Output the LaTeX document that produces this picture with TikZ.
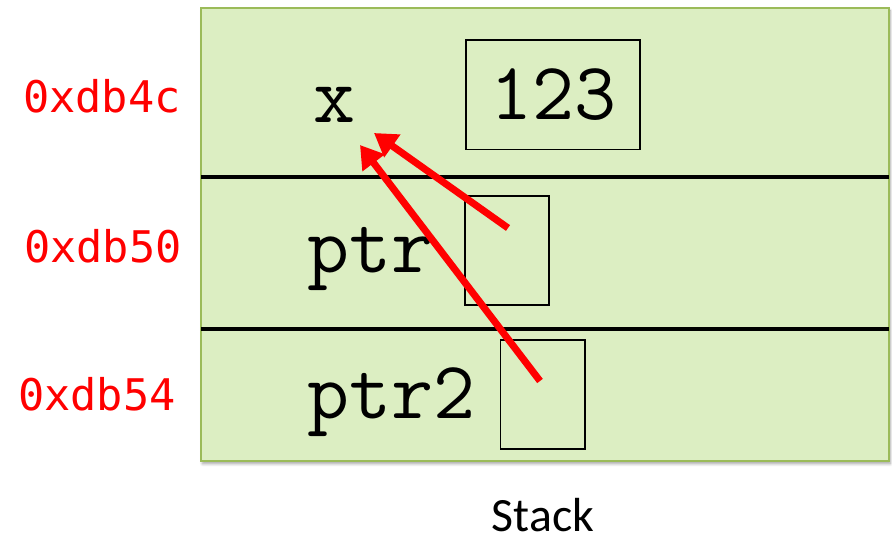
\documentclass[tikz,border=0pt]{standalone}
\usepackage{fontspec}
\setmainfont{Carlito}
\newfontfamily\addrfont{DejaVu Sans Mono}
\usepackage{tikz}
\usetikzlibrary{arrows.meta}
\usetikzlibrary{shadows.blur}
\definecolor{stackfill}{RGB}{220, 238, 194}
\definecolor{stackrand}{RGB}{155, 187, 89}
\definecolor{zeiger}{RGB}{255, 0, 0}

\begin{document}
\begin{tikzpicture}[x=0.025cm, y=-0.025cm,
    cell/.style={draw=black, line width=1.4pt, minimum width=2.1cm, minimum height=2.725cm, inner sep=0pt},
    varname/.style={font=\ttfamily\fontsize{58}{66}\selectfont, inner sep=0pt},
    addr/.style={font=\addrfont\fontsize{31}{36}\selectfont, text=zeiger, inner sep=0pt},
    zeigerpfeil/.style={zeiger, line width=5pt, -{Triangle[length=16pt, width=19pt]}}]

    \useasboundingbox (0,0) rectangle (892,538);

    % der Stack mit drei Zeilen
    \draw[fill=stackfill, draw=stackrand, line width=2pt,
          blur shadow={shadow xshift=1pt, shadow yshift=-2pt, shadow blur steps=6, shadow opacity=35}]
          (201,8) rectangle (889,461);
    \draw[line width=3pt] (201,177) -- (889,177);
    \draw[line width=3pt] (201,329) -- (889,329);

    \node[addr, anchor=base east] (a1) at (181,113) {0xdb4c};
    \node[addr, anchor=base east] (a2) at (182,262) {0xdb50};
    \node[addr, anchor=base east] (a3) at (176,410) {0xdb54};

    \node[varname, anchor=base] (x) at (334,123) {x};
    \node[varname, anchor=base west] (ptr) at (307,272) {ptr};
    \node[varname, anchor=base west] (ptrzwei) at (307,418) {ptr2};

    \node[cell, minimum width=4.35cm, font=\ttfamily\fontsize{58}{66}\selectfont] (wert) at (553,95) {123};
    \node[cell] (ptrbox) at (507,250.5) {};
    \node[cell] (ptrzweibox) at (542.5,394.5) {};

    \coordinate (s1) at (508,228);
    \coordinate (s2) at (540,381);
    \coordinate (z1) at (374,133);
    \coordinate (z2) at (360,145);
    \draw[zeigerpfeil] (s1) -- (z1);
    \draw[zeigerpfeil] (s2) -- (z2);

    \node[font=\fontsize{34}{40}\selectfont, anchor=base, inner sep=0pt] (stack) at (543,531) {Stack};

\end{tikzpicture}
\end{document}
